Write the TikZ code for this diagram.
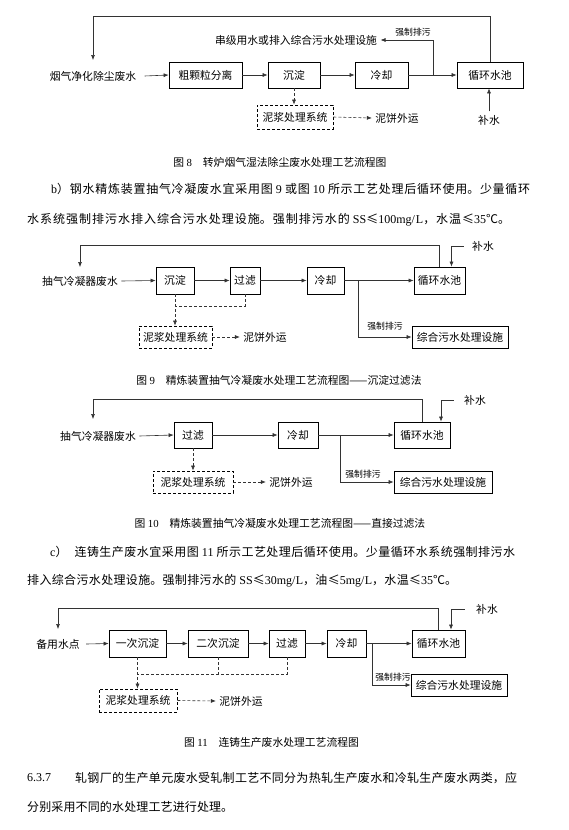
\documentclass[tikz,border=0pt]{standalone}
\usepackage{fontspec}
\setmainfont{Noto Sans CJK SC}
\newfontfamily\lat{Liberation Serif}
\usetikzlibrary{arrows.meta, positioning, calc}
\XeTeXlinebreaklocale "zh"
\XeTeXlinebreakskip=0pt plus 2pt minus 0.3pt
\newcommand{\dgmsize}{\fontsize{10.8pt}{12pt}\selectfont}
\newcommand{\lblsize}{\fontsize{8.8pt}{10pt}\selectfont}
\newcommand{\bodysize}{\fontsize{12pt}{14pt}\selectfont}
\newcommand{\jline}[2]{\parbox{#1}{\noindent\spaceskip=3pt plus 0.3pt\parfillskip=0pt\relax #2}}

\begin{document}
\begin{tikzpicture}[x=1pt, y=-1pt,
	box/.style={draw, line width=0.7pt, inner sep=0pt, font=\dgmsize},
	mudbox/.style={draw, dashed, dash pattern=on 3pt off 2pt, line width=0.7pt, inner sep=0pt, font=\dgmsize},
	txt/.style={font=\dgmsize},
	lbl/.style={font=\lblsize, inner sep=1pt},
	captxt/.style={font=\dgmsize},
	para/.style={font=\bodysize, anchor=west, inner sep=0pt},
	flow/.style={draw=black!80, line width=0.6pt, -{Latex[length=5pt,width=4pt]}},
	mudflow/.style={flow, dash pattern=on 3pt off 2pt},
	mudline/.style={draw=black!80, line width=0.6pt, dash pattern=on 3pt off 2pt}]

\useasboundingbox (0,0) rectangle (568,830);

% figure 8
\node [txt] (src8) at (93,76) {烟气净化除尘废水};
\node [box, minimum width=73pt, minimum height=26pt] (f8a) at (205.5,75) {粗颗粒分离};
\node [box, minimum width=52pt, minimum height=26pt] (f8b) at (294,75) {沉淀};
\node [box, minimum width=53pt, minimum height=26pt] (f8c) at (381.5,75) {冷却};
\node [box, minimum width=66pt, minimum height=26pt] (f8d) at (490,75) {循环水池};
\node [txt] (cas8) at (296,40) {串级用水或排入综合污水处理设施};
\node [lbl] (lab8) at (413,32) {强制排污};
\node [txt] (bs8) at (489,120) {补水};
\node [mudbox, minimum width=76pt, minimum height=24pt] (mud8) at (295,117) {泥浆处理系统};
\node [txt] (cake8) at (397,118) {泥饼外运};
\coordinate (in8) at (93,60);
\coordinate (b8) at (433,75);

\draw [flow] ([xshift=5pt]src8.east) -- (f8a.west);
\draw [flow] (f8a.east) -- (f8b.west);
\draw [flow] (f8b.east) -- (f8c.west);
\draw [flow] (f8c.east) -- (f8d.west);
\draw [flow] (f8d.north) -- ++(0,-45) -| (in8);
\draw [flow] (b8) |- (cas8.east);
\draw [flow] (bs8.north) -- (bs8.north |- f8d.south);
\draw [mudflow] (f8b.south) -- (f8b.south |- mud8.north);
\draw [mudflow] (mud8.east) -- (cake8.west);

\node [captxt] (cap8) at (280,162) {图 {\lat 8}\quad 转炉烟气湿法除尘废水处理工艺流程图};

% text b
\node [para] (pb1) at (51,189) {\jline{479pt}{{\lat b}）钢水精炼装置抽气冷凝废水宜采用图 {\lat 9} 或图 {\lat 10} 所示工艺处理后循环使用。少量循环}};
\node [para] (pb2) at (27,220) {\jline{483pt}{水系统强制排污水排入综合污水处理设施。强制排污水的 {\lat SS}≤{\lat 100mg/L}，水温≤{\lat 35}℃。}};

% figure 9
\node [txt] (src9) at (80,281) {抽气冷凝器废水};
\node [box, minimum width=38pt, minimum height=27pt] (f9a) at (175,280.5) {沉淀};
\node [box, minimum width=30pt, minimum height=27pt] (f9b) at (245,280.5) {过滤};
\node [box, minimum width=37pt, minimum height=27pt] (f9c) at (325.5,280.5) {冷却};
\node [box, minimum width=51pt, minimum height=27pt] (f9d) at (439.5,280.5) {循环水池};
\node [box, minimum width=96pt, minimum height=22pt] (f9e) at (460,337) {综合污水处理设施};
\node [lbl] (lab9) at (385,326) {强制排污};
\node [txt] (bs9) at (483,246) {补水};
\node [mudbox, minimum width=73pt, minimum height=22pt] (mud9) at (175.5,337) {泥浆处理系统};
\node [txt] (cake9) at (265,337) {泥饼外运};
\coordinate (in9) at (80,267);
\coordinate (b9) at (358,280.5);
\coordinate (j9) at (175,306);

\draw [flow] (src9.east) -- (f9a.west);
\draw [flow] (f9a.east) -- (f9b.west);
\draw [flow] (f9b.east) -- (f9c.west);
\draw [flow] (f9c.east) -- (f9d.west);
\draw [flow] (f9d.north) -- ++(0,-21) -| (in9);
\draw [flow] ([xshift=-5pt]bs9.west) -| ($(f9d.north)+(12,0)$);
\draw [flow] (b9) |- (f9e.west);
\draw [mudflow] (f9a.south) -- (f9a.south |- mud9.north);
\draw [mudline] (f9b.south) |- (j9);
\draw [mudflow] (mud9.east) -- (cake9.west);

\node [captxt] (cap9) at (279,380) {图 {\lat 9}\quad 精炼装置抽气冷凝废水处理工艺流程图——沉淀过滤法};

% figure 10
\node [txt] (src10) at (98,436) {抽气冷凝器废水};
\node [box, minimum width=38pt, minimum height=26pt] (f10a) at (193,435) {过滤};
\node [box, minimum width=40pt, minimum height=26pt] (f10b) at (298,435) {冷却};
\node [box, minimum width=56pt, minimum height=26pt] (f10c) at (422,435) {循环水池};
\node [box, minimum width=98pt, minimum height=22pt] (f10d) at (443,482) {综合污水处理设施};
\node [lbl] (lab10) at (363,474) {强制排污};
\node [txt] (bs10) at (475,400) {补水};
\node [mudbox, minimum width=80pt, minimum height=22pt] (mud10) at (193,482) {泥浆处理系统};
\node [txt] (cake10) at (291,482) {泥饼外运};
\coordinate (in10) at (93,419);
\coordinate (b10) at (340,435);

\draw [flow] (src10.east) -- (f10a.west);
\draw [flow] (f10a.east) -- (f10b.west);
\draw [flow] (f10b.east) -- (f10c.west);
\draw [flow] (f10c.north) -- ++(0,-22) -| (in10);
\draw [flow] ([xshift=-7pt]bs10.west) -| ($(f10c.north)+(19,0)$);
\draw [flow] (b10) |- (f10d.west);
\draw [mudflow] (f10a.south) -- (mud10.north);
\draw [mudflow] (mud10.east) -- (cake10.west);

\node [captxt] (cap10) at (280,523) {图 {\lat 10}\quad 精炼装置抽气冷凝废水处理工艺流程图——直接过滤法};

% text c
\node [para] (pc1) at (50,552) {\jline{465pt}{{\lat c}）\hspace{7pt}连铸生产废水宜采用图 {\lat 11} 所示工艺处理后循环使用。少量循环水系统强制排污水}};
\node [para] (pc2) at (27,581) {\jline{430pt}{排入综合污水处理设施。强制排污水的 {\lat SS}≤{\lat 30mg/L}，油≤{\lat 5mg/L}，水温≤{\lat 35}℃。}};

% figure 11
\node [txt] (src11) at (58,644) {备用水点};
\node [box, minimum width=57pt, minimum height=27pt] (f11a) at (137.5,643.5) {一次沉淀};
\node [box, minimum width=60pt, minimum height=27pt] (f11b) at (218,643.5) {二次沉淀};
\node [box, minimum width=36pt, minimum height=27pt] (f11c) at (287,643.5) {过滤};
\node [box, minimum width=39pt, minimum height=27pt] (f11d) at (346.5,643.5) {冷却};
\node [box, minimum width=53pt, minimum height=27pt] (f11e) at (438.5,643.5) {循环水池};
\node [box, minimum width=96pt, minimum height=22pt] (f11f) at (459,685) {综合污水处理设施};
\node [lbl] (lab11) at (393,677) {强制排污};
\node [txt] (bs11) at (487,609) {补水};
\node [mudbox, minimum width=78pt, minimum height=23pt] (mud11) at (138,700.5) {泥浆处理系统};
\node [txt] (cake11) at (241,701) {泥饼外运};
\coordinate (in11) at (58,629);
\coordinate (b11) at (372,643.5);
\coordinate (j11) at (137.5,674);

\draw [flow] ([xshift=3pt]src11.east) -- (f11a.west);
\draw [flow] (f11a.east) -- (f11b.west);
\draw [flow] (f11b.east) -- (f11c.west);
\draw [flow] (f11c.east) -- (f11d.west);
\draw [flow] (f11d.east) -- (f11e.west);
\draw [flow] (f11e.north) -- ++(0,-21) -| (in11);
\draw [flow] ([xshift=-8pt]bs11.west) -| ($(f11e.north)+(12.5,0)$);
\draw [flow] (b11) |- (f11f.west);
\draw [mudflow] (f11a.south) -- (f11a.south |- mud11.north);
\draw [mudline] (f11c.south) |- (j11);
\draw [mudline] (f11b.south) -- (f11b.south |- j11);
\draw [mudflow] (mud11.east) -- (cake11.west);

\node [captxt] (cap11) at (271.5,742) {图 {\lat 11}\quad 连铸生产废水处理工艺流程图};

% 6.3.7
\node [para] (n637) at (27,778) {\lat 6.3.7};
\node [para] (p637) at (75,778) {\jline{442pt}{轧钢厂的生产单元废水受轧制工艺不同分为热轧生产废水和冷轧生产废水两类，应}};
\node [para] (p638) at (27,807) {\jline{206pt}{分别采用不同的水处理工艺进行处理。}};

\end{tikzpicture}
\end{document}
